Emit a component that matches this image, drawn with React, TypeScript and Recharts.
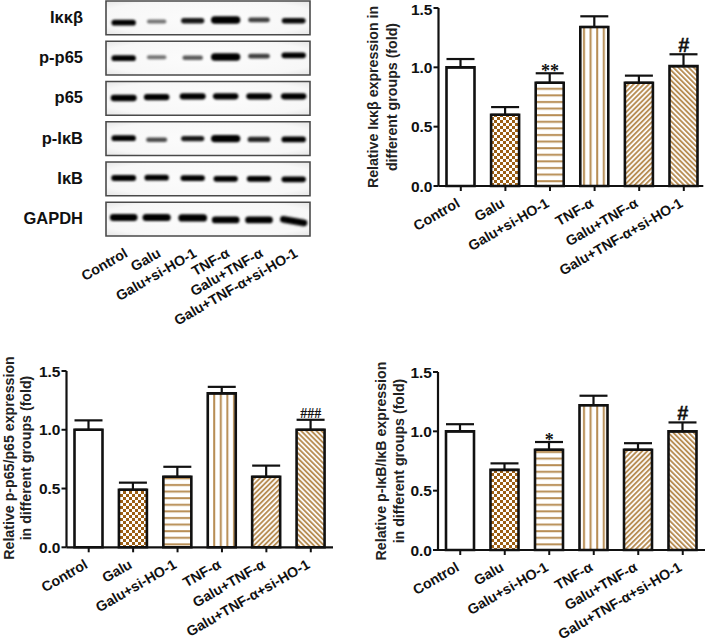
import React from "react";
import {
  Bar, Cell, ComposedChart, ErrorBar, LabelList, Line, ReferenceArea,
  Scatter, ScatterChart, XAxis, YAxis,
} from "recharts";

const FONT = '"Liberation Sans", Arial, sans-serif';
const INK = "#111";

const categories = ["Control", "Galu", "Galu+si-HO-1", "TNF-α", "Galu+TNF-α", "Galu+TNF-α+si-HO-1"];
const yTicks = [0, 0.5, 1, 1.5];

const ikkbValues = [1.0, 0.6, 0.87, 1.34, 0.87, 1.01];
const ikkbErrors = [0.07, 0.065, 0.08, 0.09, 0.06, 0.1];
const ikkbMarks = ["", "", "**", "", "", "#"];

const p65Values = [1.0, 0.49, 0.6, 1.31, 0.6, 1.0];
const p65Errors = [0.08, 0.06, 0.085, 0.055, 0.095, 0.085];
const p65Marks = ["", "", "", "", "", "###"];

const ikbValues = [1.0, 0.675, 0.845, 1.22, 0.845, 1.0];
const ikbErrors = [0.06, 0.055, 0.065, 0.08, 0.055, 0.075];
const ikbMarks = ["", "", "*", "", "", "#"];

const rowNames = ["Iκκβ", "p-p65", "p65", "p-IκB", "IκB", "GAPDH"];
const lanePositions = [0, 0.97, 2.03, 3, 3.98, 5];
const ikkbBands = [0.85, 0.4, 0.75, 1.3, 0.6, 0.8];
const pp65Bands = [0.85, 0.4, 0.5, 1.3, 0.6, 0.85];
const p65Bands = [1, 0.95, 1, 0.95, 0.95, 0.95];
const pikbBands = [0.85, 0.55, 0.75, 1.3, 0.7, 0.85];
const ikbBands = [0.9, 0.85, 0.85, 0.85, 0.85, 0.85];
const gapdhBands = [1.15, 1.2, 1.25, 1.15, 1.15, 1.15];
const bandRows = [ikkbBands, pp65Bands, p65Bands, pikbBands, ikbBands, gapdhBands];
const ikkbDrift = [0.12, 0.09, 0.07, 0.05, 0.05, 0.07];
const pp65Drift = [0, -0.02, -0.01, -0.03, -0.05, -0.07];
const p65Drift = [-0.01, -0.03, -0.05, -0.05, -0.05, -0.05];
const pikbDrift = [-0.01, 0.03, 0, 0, 0.02, 0.02];
const ikbDrift = [-0.02, -0.03, -0.02, 0, 0, 0.01];
const gapdhDrift = [-0.04, -0.04, -0.03, 0.02, 0.02, 0.05];
const driftRows = [ikkbDrift, pp65Drift, p65Drift, pikbDrift, ikbDrift, gapdhDrift];
const gapdhTilt = [0, 0, 0, 0, 0, 10];

const blotPoints = bandRows.flatMap((row, r) =>
  row.map((intensity, lane) => ({
    lane: lanePositions[lane],
    row: r + driftRows[r][lane],
    intensity,
    tilt: r === 5 ? gapdhTilt[lane] : 0,
  })),
);

function Patterns({ p }: { p: string }) {
  const brown = "#9c5f14";
  const tan = "#b88e55";
  return (
    <defs>
      <pattern id={`${p}check`} width="6" height="6" patternUnits="userSpaceOnUse">
        <rect width="6" height="6" fill="#fff" />
        <rect width="3" height="3" fill={brown} />
        <rect x="3" y="3" width="3" height="3" fill={brown} />
      </pattern>
      <pattern id={`${p}horiz`} width="6.6" height="6.6" patternUnits="userSpaceOnUse">
        <rect width="6.6" height="6.6" fill="#fff" />
        <rect y="2" width="6.6" height="2" fill={tan} />
      </pattern>
      <pattern id={`${p}vert`} width="6.6" height="6.6" patternUnits="userSpaceOnUse">
        <rect width="6.6" height="6.6" fill="#fff" />
        <rect x="2" width="2" height="6.6" fill={tan} />
      </pattern>
      <pattern id={`${p}up`} width="3.6" height="3.6" patternUnits="userSpaceOnUse" patternTransform="rotate(45)">
        <rect width="3.6" height="3.6" fill="#fff" />
        <rect width="1.9" height="3.6" fill={tan} />
      </pattern>
      <pattern id={`${p}down`} width="3.6" height="3.6" patternUnits="userSpaceOnUse" patternTransform="rotate(-45)">
        <rect width="3.6" height="3.6" fill="#fff" />
        <rect width="1.9" height="3.6" fill={tan} />
      </pattern>
    </defs>
  );
}

function AngledTick(props: any) {
  const { x, y, payload, index, shiftX = 0, shiftY = 0 } = props;
  const label = typeof payload.value === "string" ? payload.value : categories[index];
  const tx = x + shiftX;
  const ty = y + 13 + shiftY;
  return (
    <text
      x={tx}
      y={ty}
      textAnchor="end"
      fontFamily={FONT}
      fontWeight="bold"
      fontSize={14.2}
      fill={INK}
      transform={`rotate(-30 ${tx} ${ty})`}
    >
      {label}
    </text>
  );
}

function Mark(props: any) {
  const { x, y, value } = props;
  if (!value) return null;
  const isHash = value === "#";
  const triple = value === "###";
  return (
    <text
      x={x}
      y={isHash ? y - 2 : triple ? y - 2 : y + 4}
      textAnchor="middle"
      fontFamily={isHash ? FONT : '"Liberation Serif", serif'}
      fontWeight="bold"
      fontSize={isHash ? 20 : triple ? 14 : 18}
      stroke={isHash ? INK : "none"}
      strokeWidth={isHash ? 0.4 : 0}
      fill={INK}
    >
      {value}
    </text>
  );
}

type PanelProps = {
  id: string;
  left: number;
  top: number;
  width: number;
  height: number;
  axisX: number;
  y15: number;
  y0: number;
  right: number;
  overhang: number;
  values: number[];
  errors: number[];
  marks: string[];
  title: string[];
  titleX: number[];
  titleY: number;
  titleSize: number;
};

function Panel(p: PanelProps) {
  const data = categories.map((name, i) => ({
    name,
    value: p.values[i],
    err: [0, p.errors[i]],
    top: p.values[i] + p.errors[i],
    mark: p.marks[i],
  }));
  const fills = ["#fff", "check", "horiz", "vert", "up", "down"].map((f, i) =>
    i === 0 ? f : `url(#${p.id}${f})`,
  );
  const yAxisWidth = 40;
  const xAxisHeight = 100;
  return (
    <div style={{ position: "absolute", left: p.left, top: p.top }}>
      <ComposedChart
        width={p.width}
        height={p.height}
        data={data}
        barCategoryGap={0}
        margin={{
          top: p.y15 - p.top,
          left: p.axisX - p.left - yAxisWidth,
          right: p.left + p.width - p.right,
          bottom: p.top + p.height - p.y0 - xAxisHeight,
        }}
      >
        <Patterns p={p.id} />
        <XAxis
          dataKey="name"
          interval={0}
          height={xAxisHeight}
          padding={{ left: 0, right: p.overhang }}
          tick={<AngledTick shiftX={0} shiftY={0} />}
          tickSize={5}
          axisLine={{ stroke: INK, strokeWidth: 2.2 }}
          tickLine={{ stroke: INK, strokeWidth: 2 }}
        />
        <YAxis
          width={yAxisWidth}
          domain={[0, 1.5]}
          ticks={yTicks}
          tickFormatter={(v: number) => v.toFixed(1)}
          tickSize={5}
          tickMargin={1}
          tick={{ fontFamily: FONT, fontWeight: "bold", fontSize: 15.5, fill: INK }}
          axisLine={{ stroke: INK, strokeWidth: 2.2 }}
          tickLine={{ stroke: INK, strokeWidth: 2 }}
        />
        <Bar dataKey="value" barSize={28} stroke={INK} strokeWidth={2.6} isAnimationActive={false}>
          {data.map((d, i) => (
            <Cell key={d.name} fill={fills[i]} />
          ))}
          <ErrorBar dataKey="err" direction="y" width={14} stroke={INK} strokeWidth={2.2} isAnimationActive={false} />
        </Bar>
        <Line dataKey="top" stroke="none" dot={false} activeDot={false} legendType="none" isAnimationActive={false}>
          <LabelList dataKey="mark" content={<Mark />} />
        </Line>
        {p.title.map((line, i) => (
          <text
            key={line}
            x={p.titleX[i] - p.left}
            y={p.titleY - p.top}
            textAnchor="middle"
            dominantBaseline="central"
            fontFamily={FONT}
            fontWeight="bold"
            fontSize={p.titleSize}
            fill="#222"
            transform={`rotate(-90 ${p.titleX[i] - p.left} ${p.titleY - p.top})`}
          >
            {line}
          </text>
        ))}
      </ComposedChart>
    </div>
  );
}

function BandShape(props: any) {
  const { cx, cy, payload } = props;
  const i = payload.intensity;
  const w = 15 + 11 * i;
  const h = 2.5 + 3.8 * i;
  return (
    <rect
      x={cx - w / 2}
      y={cy - h / 2}
      width={w}
      height={h}
      rx={h / 2}
      ry={h / 2}
      fill="#000"
      fillOpacity={Math.min(1, 0.12 + 1.05 * i)}
      filter="url(#bandBlur)"
      transform={payload.tilt ? `rotate(${payload.tilt} ${cx} ${cy})` : undefined}
    />
  );
}

function RowTick(props: any) {
  const { x, y, index } = props;
  return (
    <text
      x={x}
      y={y + 5}
      textAnchor="end"
      fontFamily={FONT}
      fontWeight="bold"
      fontSize={16.5}
      fill={INK}
    >
      {rowNames[index]}
    </text>
  );
}

function Blot() {
  return (
    <div style={{ position: "absolute", left: 0, top: 0 }}>
      <ScatterChart width={340} height={330} margin={{ top: 1, left: 0, right: 30, bottom: 4 }}>
        <defs>
          <filter id="bandBlur" x="-30%" y="-120%" width="160%" height="340%">
            <feGaussianBlur stdDeviation="1.1" />
          </filter>
          <radialGradient id="blotBg" cx="50%" cy="50%" r="68%">
            <stop offset="0%" stopColor="#fcfcfc" />
            <stop offset="80%" stopColor="#f7f7f7" />
            <stop offset="100%" stopColor="#e8e8e8" />
          </radialGradient>
        </defs>
        <XAxis
          type="number"
          dataKey="lane"
          domain={[-0.52, 5.48]}
          ticks={[...lanePositions]}
          interval={0}
          height={90}
          tick={<AngledTick shiftX={5} shiftY={3} />}
          tickSize={2}
          axisLine={false}
          tickLine={false}
        />
        <YAxis
          type="number"
          dataKey="row"
          reversed
          domain={[-0.42, 5.42]}
          ticks={[0, 1, 2, 3, 4, 5]}
          interval={0}
          width={106}
          tick={<RowTick />}
          tickSize={0}
          tickMargin={23}
          axisLine={false}
          tickLine={false}
        />
        {rowNames.map((name, i) => (
          <ReferenceArea
            key={name}
            y1={i - 0.42}
            y2={i + 0.42}
            fill="url(#blotBg)"
            fillOpacity={1}
            stroke="#4a4a4a"
            strokeWidth={1.6}
          />
        ))}
        <Scatter data={blotPoints} shape={<BandShape />} isAnimationActive={false} />
      </ScatterChart>
    </div>
  );
}

export default function App() {
  return (
    <div style={{ position: "absolute", left: 0, top: 0, width: 709, height: 641, background: "#fff" }}>
      <Blot />
      <Panel
        id="a"
        left={350}
        top={0}
        width={359}
        height={320}
        axisX={438.5}
        y15={8}
        y0={186}
        right={703.3}
        overhang={-2.8}
        values={ikkbValues}
        errors={ikkbErrors}
        marks={ikkbMarks}
        title={["Relative Iκκβ expression in", "different groups (fold)"]}
        titleX={[373, 391.5]}
        titleY={97}
        titleSize={14.2}
      />
      <Panel
        id="b"
        left={0}
        top={350}
        width={340}
        height={291}
        axisX={66.5}
        y15={371}
        y0={547.3}
        right={333}
        overhang={0}
        values={p65Values}
        errors={p65Errors}
        marks={p65Marks}
        title={["Relative p-p65/p65 expression", "in different groups (fold)"]}
        titleX={[8.5, 26]}
        titleY={458}
        titleSize={14.2}
      />
      <Panel
        id="c"
        left={350}
        top={350}
        width={359}
        height={291}
        axisX={438}
        y15={372}
        y0={550}
        right={705}
        overhang={0}
        values={ikbValues}
        errors={ikbErrors}
        marks={ikbMarks}
        title={["Relative p-IκB/IκB expression", "in different groups (fold)"]}
        titleX={[380.5, 399]}
        titleY={461}
        titleSize={14.2}
      />
    </div>
  );
}
